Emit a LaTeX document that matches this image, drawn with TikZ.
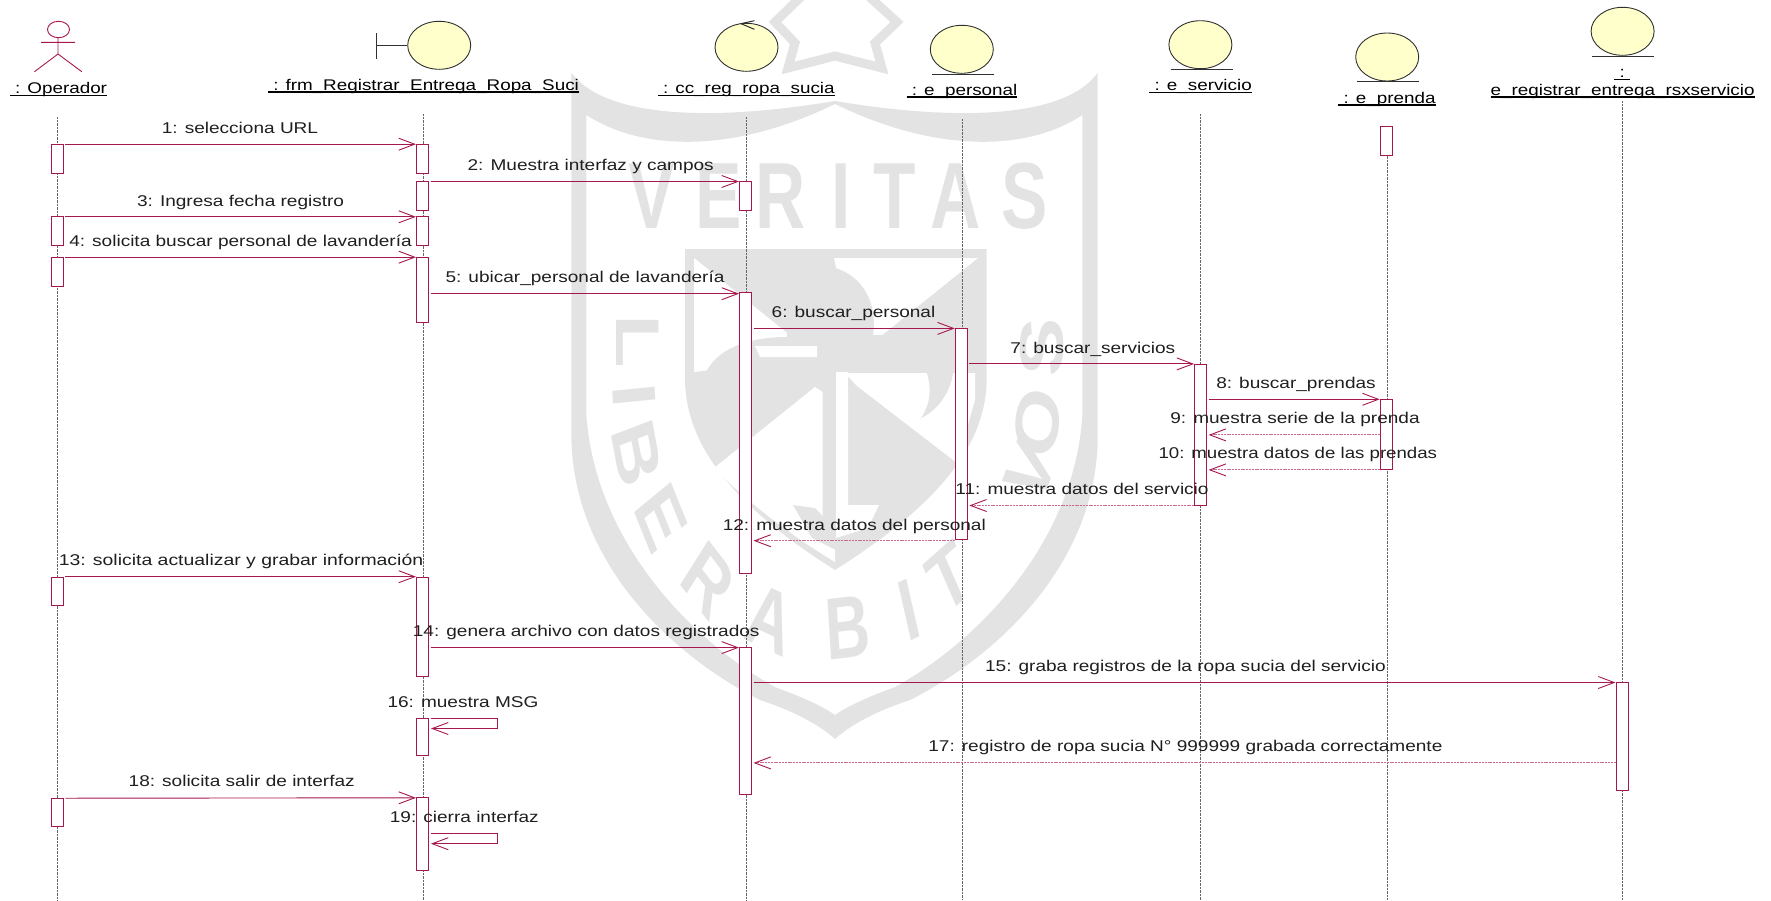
\documentclass[tikz,border=0pt]{standalone}
\usepackage{fontspec}
\setmainfont[FakeStretch=1.22]{Liberation Sans}
\newfontfamily\wmfont{Liberation Sans}
\usetikzlibrary{arrows.meta,shapes.geometric}
\definecolor{lnk}{HTML}{A6164F}
\definecolor{lnkr}{HTML}{CF6A95}
\definecolor{wm}{HTML}{E3E3E3}
\definecolor{cls}{HTML}{FFFFCC}
\definecolor{ink}{HTML}{303030}
\definecolor{lifec}{HTML}{666666}
\newcommand\ulx[1]{\setbox0\hbox{#1}\leavevmode\rlap{\vrule width \wd0 height -1.1pt depth 2.3pt}\box0}
\newcommand\actbox[4]{\node[act,minimum height={(#4-#3)*1pt}] (#1) at (#2,{(#3+#4)/2}) {};}
\tikzset{
 act/.style={draw=lnk,line width=1pt,fill=white,minimum width=12pt,inner sep=0pt},
 msg/.style={draw=lnk,line width=0.9pt,-{Straight Barb[length=16pt,width=12pt,line width=0.9pt]}},
 ret/.style={draw=lnkr,line width=0.9pt,dash pattern=on 2pt off 0.8pt,-{Straight Barb[length=16pt,width=12pt,line width=0.9pt,color=lnk]}},
 life/.style={draw=lifec,line width=0.8pt,dash pattern=on 1pt off 0.4pt},
 cobj/.style={ellipse,draw=ink,line width=0.9pt,fill=cls,minimum width=63pt,minimum height=48pt,inner sep=0pt},
 bar/.style={draw=ink,line width=1pt},
 lab/.style={anchor=base,inner sep=0pt,text=black!88,font=\fontsize{15.6}{18}\selectfont},
 objn/.style={anchor=base,inner sep=0pt,text=black,font=\fontsize{15.45}{18}\selectfont},
 wmv/.style={inner sep=0pt,text=wm,xscale=0.74},
 wmr/.style={inner sep=0pt,text=wm,xscale=0.7}
}
\begin{document}
\begin{tikzpicture}[x=1pt,y=-1pt]
\useasboundingbox (0,0) rectangle (1771,900);
% ---- watermark
\begin{scope}
\clip (0,0) rectangle (1771,900);
\draw[wm,line width=9pt,miter limit=10] (806,-8) -- (775,22) -- (795,43) -- (788,68) -- (835,56) -- (882,68) -- (875,43) -- (897,22) -- (864,-8);
\fill[wm,even odd rule]
 (571.4,72.7) .. controls (600,112) and (690,125) .. (835,101)
 .. controls (980,125) and (1070,112) .. (1097.7,72.7)
 -- (1097.7,440) .. controls (1095,570) and (990,660) .. (910,700)
 .. controls (865,715) and (845,730) .. (835,739)
 .. controls (825,730) and (805,715) .. (760,700)
 .. controls (680,660) and (575,570) .. (571.4,440) -- cycle
 (586.4,115) .. controls (640,150) and (730,155) .. (835,104)
 .. controls (940,155) and (1030,150) .. (1082.3,115)
 -- (1082.3,415) .. controls (1075,540) and (980,640) .. (895,687)
 .. controls (860,700) and (845,708) .. (835,715)
 .. controls (825,708) and (810,700) .. (775,687)
 .. controls (690,640) and (595,540) .. (586.4,415) -- cycle;
% inner shield
\fill[wm] (685,249) -- (986.6,249) -- (986.6,380) .. controls (986,450) and (930,510) .. (835,570)
 .. controls (740,510) and (686,450) .. (685,380) -- cycle;
\fill[white] (834,258) -- (978,258) -- (855,357) -- cycle;
\fill[white] (694,258) -- (817,357) -- (694,372) -- cycle;
\fill[wm] (835,268) .. controls (860,275) and (878,300) .. (873,335) .. controls (900,335) and (925,340) .. (928,352) -- (920,358) -- (835,358) -- cycle;
\fill[wm] (835,268) .. controls (805,275) and (785,300) .. (787,337) .. controls (755,337) and (720,345) .. (706,372) -- (835,372) -- cycle;
\fill[white] (755,346) -- (817,346) -- (817,357) -- (760,357) -- cycle;
\fill[white] (845,373) -- (975,373) -- (975,400) -- (957,463) -- (857,386) -- cycle;
\fill[wm] (953,373) .. controls (950,395) and (935,412) .. (921,418) .. controls (930,405) and (932,390) .. (927,373) -- cycle;
\fill[white] (815,387) -- (714,468) .. controls (745,500) and (790,535) .. (835,562) -- (835,400) -- cycle;
\fill[wm] (822.5,385) -- (836,372) -- (836,530) -- (822.5,522) -- cycle;
\fill[wm] (793,505) -- (815,508) -- (836,530) -- (836,550) -- (812,538) -- cycle;
\fill[white] (836,372) -- (848,372) -- (848,505) -- (879,505) -- (868,528) -- (836,538) -- cycle;
% VERITAS
\node[wmv] (wV) at (652,196.5) {\wmfont\bfseries\fontsize{94}{94}\selectfont V};
\node[wmv] (wE) at (719,196.5) {\wmfont\bfseries\fontsize{94}{94}\selectfont E};
\node[wmv] (wR) at (781,196.5) {\wmfont\bfseries\fontsize{94}{94}\selectfont R};
\node[wmv] (wI) at (841,196.5) {\wmfont\bfseries\fontsize{94}{94}\selectfont I};
\node[wmv] (wT) at (895,196.5) {\wmfont\bfseries\fontsize{94}{94}\selectfont T};
\node[wmv] (wA) at (956,196.5) {\wmfont\bfseries\fontsize{94}{94}\selectfont A};
\node[wmv] (wS) at (1025,196.5) {\wmfont\bfseries\fontsize{94}{94}\selectfont S};
% LIBERABIT VOS
\node[wmr,rotate=-90] (wL1) at (638,341) {\wmfont\bfseries\fontsize{88}{88}\selectfont L};
\node[wmr,rotate=-86] (wL2) at (634.7,396) {\wmfont\bfseries\fontsize{88}{88}\selectfont I};
\node[wmr,rotate=-75] (wL3) at (636.6,453) {\wmfont\bfseries\fontsize{88}{88}\selectfont B};
\node[wmr,rotate=-60] (wL4) at (661,518) {\wmfont\bfseries\fontsize{88}{88}\selectfont E};
\node[wmr,rotate=-42] (wL5) at (708,580) {\wmfont\bfseries\fontsize{88}{88}\selectfont R};
\node[wmr,rotate=-18] (wL6) at (770,620) {\wmfont\bfseries\fontsize{88}{88}\selectfont A};
\node[wmr,rotate=5] (wL7) at (848,628) {\wmfont\bfseries\fontsize{88}{88}\selectfont B};
\node[wmr,rotate=18] (wL8) at (909.5,610) {\wmfont\bfseries\fontsize{88}{88}\selectfont I};
\node[wmr,rotate=32] (wL9) at (949,578) {\wmfont\bfseries\fontsize{88}{88}\selectfont T};
\node[wmr,rotate=62] (wV1) at (1030,470) {\wmfont\bfseries\fontsize{88}{88}\selectfont V};
\node[wmr,rotate=78] (wV2) at (1038,423) {\wmfont\bfseries\fontsize{88}{88}\selectfont O};
\node[wmr,rotate=88] (wV3) at (1042,347) {\wmfont\bfseries\fontsize{88}{88}\selectfont S};
\end{scope}
% ---- lifelines
\coordinate (opT) at (57.8,117);   \coordinate (opB) at (57.8,900);
\coordinate (bdT) at (423.4,114);  \coordinate (bdB) at (423.4,900);
\coordinate (ccT) at (746.5,117);  \coordinate (ccB) at (746.5,900);
\coordinate (peT) at (962,119);    \coordinate (peB) at (962,900);
\coordinate (svT) at (1200.6,114); \coordinate (svB) at (1200.6,900);
\coordinate (prT) at (1387,150);   \coordinate (prB) at (1387,900);
\coordinate (reT) at (1622.5,101); \coordinate (reB) at (1622.5,900);
\foreach \a/\b in {opT/opB,bdT/bdB,ccT/ccB,peT/peB,svT/svB,prT/prB,reT/reB} \draw[life] (\a) -- (\b);
% ---- actor
\draw[lnk,line width=0.9pt] (58.5,29.5) ellipse [x radius=11,y radius=8.2];
\draw[lnk,line width=0.9pt] (58,37.7) -- (58,54) -- (34.4,71.7) (58,54) -- (81.8,71.7) (41,42.3) -- (75,42.3);
% ---- class symbols
\node[cobj] (bd) at (439.2,45.3) {};
\draw[bar] (376.7,33.3) -- (376.7,58.7);
\draw[bar] (376.7,45.3) -- (bd.west);
\node[cobj] (cc) at (746.5,47.3) {};
\draw[bar] (754.4,20.7) -- (741,23.7) -- (754.4,29.3);
\node[cobj] (pe) at (961.8,49.3) {};
\draw[bar] (932,74) -- (993.5,74);
\node[cobj] (sv) at (1200.4,44.7) {};
\draw[bar] (1170.6,69.3) -- (1232.6,69.3);
\node[cobj] (pr) at (1387.2,57) {};
\draw[bar] (1357,81.3) -- (1419,81.3);
\node[cobj] (re) at (1622.6,31.3) {};
\draw[bar] (1592.4,56) -- (1654.4,56);
% ---- object names
\node[objn] (nop) at (58.5,93.9) {\ulx{\ : Operador}};
\node[objn] (nbd) at (423.5,90.2) {\ulx{\ : frm\_Registrar\_Entrega\_Ropa\_Suci}};
\node[objn] (ncc) at (746.3,93.4) {\ulx{\ : cc\_reg\_ropa\_sucia}};
\node[objn] (npe) at (962,95.2) {\ulx{\ : e\_personal}};
\node[objn] (nsv) at (1200.6,90.5) {\ulx{\ : e\_servicio}};
\node[objn] (npr) at (1387,103.2) {\ulx{\ : e\_prenda}};
\node[objn] (nrc) at (1622.3,77.5) {\ulx{\ :\ }};
\node[objn] (nre) at (1622.6,95.2) {\ulx{e\_registrar\_entrega\_rsxservicio}};
% ---- activations
\actbox{op1}{57.3}{144}{173}
\actbox{op2}{57.3}{216.3}{245.7}
\actbox{op3}{57.3}{257}{286.3}
\actbox{op4}{57.3}{577}{605}
\actbox{op5}{57.3}{798.5}{826.8}
\actbox{bd1}{422.5}{144}{173}
\actbox{bd2}{422.5}{181.3}{210.3}
\actbox{bd3}{422.5}{216.3}{245.7}
\actbox{bd4}{422.5}{257}{322}
\actbox{bd5}{422.5}{577}{676.6}
\actbox{bd6}{422.5}{718}{755.7}
\actbox{bd7}{422.5}{797.3}{870.3}
\actbox{cc1}{745.5}{181.3}{210.3}
\actbox{cc2}{745.5}{292.5}{573}
\actbox{cc3}{745.5}{647.3}{794.3}
\actbox{pe1}{961.3}{328}{539}
\actbox{sv1}{1200.6}{364}{505}
\actbox{pr1}{1386.2}{126}{155}
\actbox{pr2}{1386.2}{399}{469}
\actbox{re1}{1622}{682}{790.6}
% ---- messages
\draw[msg] ([xshift=1.5pt,yshift=-0.7pt]op1.north east) -- ([yshift=-0.7pt]bd1.north west);
\draw[msg] ([xshift=1.5pt,yshift=-0.7pt]bd2.north east) -- ([yshift=-0.7pt]cc1.north west);
\draw[msg] ([xshift=1.5pt,yshift=-1pt]op2.north east) -- ([yshift=-1pt]bd3.north west);
\draw[msg] ([xshift=1.5pt,yshift=-0.7pt]op3.north east) -- ([yshift=-0.7pt]bd4.north west);
\coordinate (m5) at (0,293.7);
\draw[msg] ([xshift=1.5pt]bd4.east |- m5) -- (cc2.north west |- m5);
\draw[msg] ([xshift=1.5pt,yshift=-0.9pt]cc2.east |- pe1.north) -- ([yshift=-0.9pt]pe1.north west);
\draw[msg] ([xshift=1.5pt,yshift=-0.4pt]pe1.east |- sv1.north) -- ([yshift=-0.4pt]sv1.north west);
\draw[msg] ([xshift=1.5pt,yshift=-0.8pt]sv1.east |- pr2.north) -- ([yshift=-0.8pt]pr2.north west);
\coordinate (m9) at (0,434.9);  \coordinate (m10) at (0,469.9);
\coordinate (m11) at (0,505.5); \coordinate (m12) at (0,540.7);
\draw[ret] (pr2.west |- m9) -- ([xshift=1.5pt]sv1.east |- m9);
\draw[ret] (pr2.west |- m10) -- ([xshift=1.5pt]sv1.east |- m10);
\draw[ret] (sv1.west |- m11) -- ([xshift=1.5pt]pe1.east |- m11);
\draw[ret] (pe1.west |- m12) -- ([xshift=1.5pt]cc2.east |- m12);
\draw[msg] ([xshift=1.5pt,yshift=-0.2pt]op4.north east) -- ([yshift=-0.2pt]bd5.north west);
\coordinate (m14) at (0,647.6);
\draw[msg] ([xshift=1.5pt]bd5.east |- m14) -- (cc3.north west |- m14);
\draw[msg] ([xshift=1.5pt,yshift=-1pt]cc3.east |- re1.north) -- ([yshift=-1pt]re1.north west);
\draw[msg] ([xshift=2pt,yshift=-1pt]bd6.north east) -- ++(66,0) -- ++(0,10) -- ++(-66,0);
\coordinate (m17) at (0,762.9);
\draw[ret] (re1.west |- m17) -- ([xshift=1.5pt]cc3.east |- m17);
\draw[msg] ([xshift=1.5pt,yshift=-0.2pt]op5.north east) -- ([yshift=-1pt]bd7.north west);
\coordinate (m19) at (0,833.7);
\draw[msg] ([xshift=2pt]bd7.east |- m19) -- ++(66,0) -- ++(0,10) -- ++(-66,0);
% ---- message labels
\node[lab] (t1) at (240,133.3) {1: selecciona URL};
\node[lab] (t2) at (590.7,170.3) {2: Muestra interfaz y campos};
\node[lab] (t3) at (240.6,206.7) {3: Ingresa fecha registro};
\node[lab] (t4) at (240.5,246.7) {4: solicita buscar personal de lavandería};
\node[lab] (t5) at (585,282.3) {5: ubicar\_personal de lavandería};
\node[lab] (t6) at (853.5,317.4) {6: buscar\_personal};
\node[lab] (t7) at (1092.8,353) {7: buscar\_servicios};
\node[lab] (t8) at (1296,388.4) {8: buscar\_prendas};
\node[lab] (t9) at (1295,423.5) {9: muestra serie de la prenda};
\node[lab,xscale=0.98] (t10) at (1297.8,458.5) {10: muestra datos de las prendas};
\node[lab] (t11) at (1082,494.3) {11: muestra datos del servicio};
\node[lab] (t12) at (854.3,530) {12: muestra datos del personal};
\node[lab,xscale=1.02] (t13) at (241,565.8) {13: solicita actualizar y grabar información};
\node[lab] (t14) at (586.2,636) {14: genera archivo con datos registrados};
\node[lab] (t15) at (1185.4,671.6) {15: graba registros de la ropa sucia del servicio};
\node[lab] (t16) at (463,707.7) {16: muestra MSG};
\node[lab] (t17) at (1185.4,751.3) {17: registro de ropa sucia N° 999999 grabada correctamente};
\node[lab] (t18) at (241.7,786.9) {18: solicita salir de interfaz};
\node[lab] (t19) at (464.3,822.3) {19: cierra interfaz};
\end{tikzpicture}
\end{document}
